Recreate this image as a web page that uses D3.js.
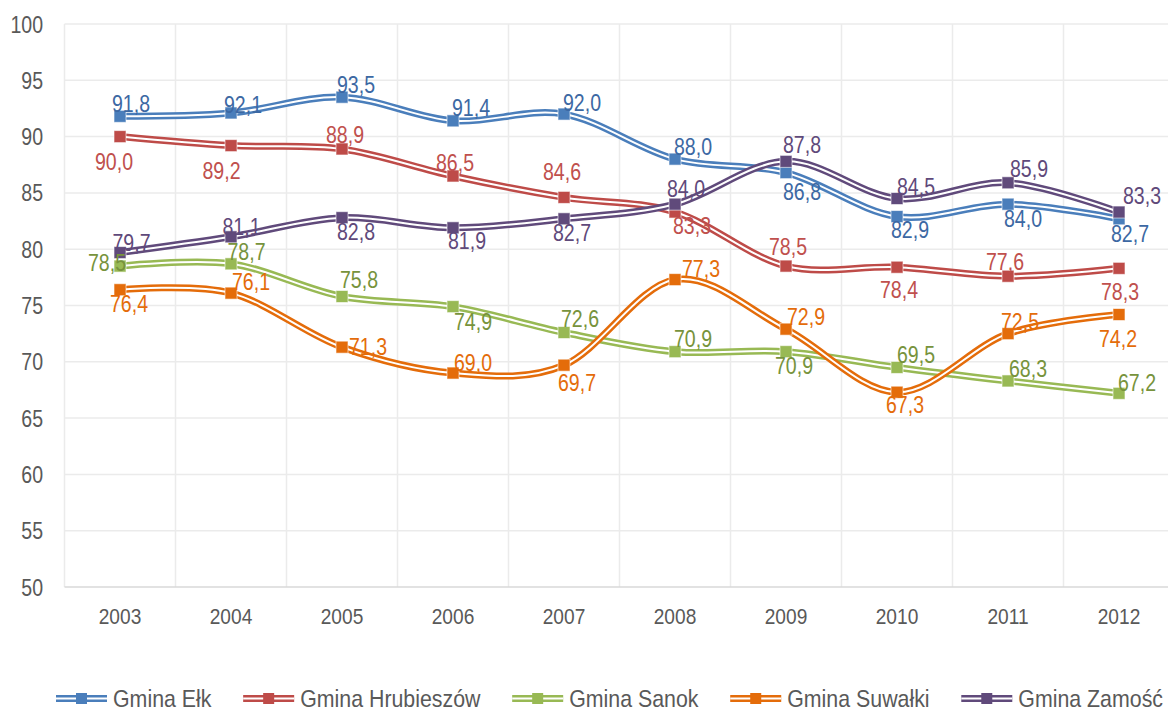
<!DOCTYPE html>
<html><head><meta charset="utf-8">
<script src="https://cdn.jsdelivr.net/npm/d3@7"></script>
<style>body{margin:0;background:#fff}svg{display:block}text{font-family:"Liberation Sans",Arial,sans-serif}</style>
</head><body><svg id="c" width="1168" height="711"></svg>
<script>
const years = ["2003","2004","2005","2006","2007","2008","2009","2010","2011","2012"];
const yTicks = [50,55,60,65,70,75,80,85,90,95,100];
const seriesNames = ["Gmina Ełk","Gmina Hrubieszów","Gmina Sanok","Gmina Suwałki","Gmina Zamość"];
const elk = [91.8,92.1,93.5,91.4,92.0,88.0,86.8,82.9,84.0,82.7];
const hrubieszow = [90.0,89.2,88.9,86.5,84.6,83.3,78.5,78.4,77.6,78.3];
const sanok = [78.5,78.7,75.8,74.9,72.6,70.9,70.9,69.5,68.3,67.2];
const suwalki = [76.4,76.1,71.3,69.0,69.7,77.3,72.9,67.3,72.5,74.2];
const zamosc = [79.7,81.1,82.8,81.9,82.7,84.0,87.8,84.5,85.9,83.3];

// data-label placement (offset of label centre/baseline from its marker), styling only
const elkLbl = [[11,-4],[12,0],[14,-4.5],[18,-5],[18,-3],[18,-4],[16,27],[13,21],[15,23],[11,23]];
const hrubLbl = [[-6,33],[-9.5,33.5],[3,-6],[2,-5],[-2,-17],[17,22],[2,-11],[2,31],[-3,-6],[1,32]];
const sanokLbl = [[-13,5],[15.5,-4],[17,-8],[20,23],[16,-6],[18,-5],[8,22],[19,-4],[20,-4],[18,-2]];
const suwLbl = [[9,22],[20,-3],[26,8],[20,-2],[13,26],[26,-3],[20,-4],[8,21],[12,-4],[-1,32]];
const zamLbl = [[11.5,-2],[10.5,-2],[14,22],[14,21],[8,22],[11,-7],[16,-8],[19,-3.5],[21,-6],[23,-8]];

const lineColors = ["#4A7EBB","#BE4B48","#98B954","#E46C0A","#604A7B"];
const labelColors = ["#3C68A3","#C0504D","#77933C","#E46C0A","#5F497A"];
const data = [elk,hrubieszow,sanok,suwalki,zamosc];
const labelPlace = [elkLbl,hrubLbl,sanokLbl,suwLbl,zamLbl];

const SX = 0.85;
const svg = d3.select("#c");
const top_ = 24, bottom = 587;
const x = d3.scaleBand().domain(years).range([64.5, 1174.5]);
const y = d3.scaleLinear().domain([50,100]).range([bottom, top_]);
const cx = d => x(d) + x.bandwidth()/2;

// gridlines
const g = svg.append("g");
g.selectAll("line.h").data(yTicks.filter(t=>t>50)).join("line")
  .attr("x1",64.5).attr("x2",1168).attr("y1",d=>y(d)).attr("y2",d=>y(d))
  .attr("stroke","#EBEBEB").attr("stroke-width",1.5);
g.selectAll("line.v").data(years).join("line")
  .attr("x1",d=>x(d)).attr("x2",d=>x(d)).attr("y1",top_).attr("y2",bottom)
  .attr("stroke","#EBEBEB").attr("stroke-width",1.5);
g.append("line").attr("x1",64.5).attr("x2",1168).attr("y1",bottom).attr("y2",bottom)
  .attr("stroke","#D9D9D9").attr("stroke-width",1.5);

// y axis labels
const ya = svg.append("g").attr("transform","translate(43,0)")
  .call(d3.axisLeft(y).tickValues(yTicks).tickSize(0).tickPadding(0));
ya.select(".domain").remove();
ya.selectAll("text").attr("font-size",23).attr("fill","#595959")
  .attr("font-family","'Liberation Sans',Arial,sans-serif").attr("dy","0.35em")
  .attr("transform",`scale(${SX},1)`);

// x axis labels
const xa = svg.append("g").attr("transform",`translate(0,${bottom})`)
  .call(d3.axisBottom(x).tickSize(0));
xa.select(".domain").remove();
xa.selectAll("text").attr("font-size",22.5).attr("fill","#595959")
  .attr("font-family","'Liberation Sans',Arial,sans-serif").attr("y",37).attr("dy",0)
  .attr("transform",`scale(${SX},1)`);

const line = d3.line().x((d,i)=>cx(years[i])).y(d=>y(d)).curve(d3.curveCardinal.tension(0));

data.forEach((s,k)=>{
  const gg = svg.append("g");
  gg.append("path").attr("d",line(s)).attr("fill","none").attr("stroke",lineColors[k]).attr("stroke-width",7);
  gg.append("path").attr("d",line(s)).attr("fill","none").attr("stroke","#fff").attr("stroke-width",2);
  gg.selectAll("rect").data(s).join("rect")
    .attr("x",(d,i)=>cx(years[i])-6).attr("y",d=>y(d)-6)
    .attr("width",12).attr("height",12).attr("fill",lineColors[k])
    .attr("stroke","#fff").attr("stroke-opacity",0.6).attr("stroke-width",1);
});
data.forEach((s,k)=>{
  svg.append("g").selectAll("text").data(s).join("text")
    .attr("transform",(d,i)=>`translate(${cx(years[i])+labelPlace[k][i][0]},${y(d)+labelPlace[k][i][1]}) scale(${SX},1)`)
    .attr("text-anchor","middle").attr("font-size",23).attr("fill",labelColors[k])
    .text(d=>d.toFixed(1).replace(".",","));
});

// legend
const LSX = 0.89;
const lg = svg.append("g").attr("transform","translate(0,698.5)");
const items = seriesNames.map((n,k)=>{
  const it = lg.append("g");
  it.append("line").attr("x1",0).attr("x2",51).attr("stroke",lineColors[k]).attr("stroke-width",7);
  it.append("line").attr("x1",0).attr("x2",51).attr("stroke","#fff").attr("stroke-width",2);
  it.append("rect").attr("x",20).attr("y",-5.5).attr("width",11).attr("height",11).attr("fill",lineColors[k]);
  const t = it.append("text").attr("transform",`translate(57,8) scale(${LSX},1)`)
    .attr("font-size",24).attr("fill","#595959").text(n);
  return {it, w: 57 + t.node().getComputedTextLength()*LSX};
});
const total = d3.sum(items, d=>d.w);
const gap = (1163 - 56 - total)/(items.length-1);
let lx = 56;
items.forEach(d=>{ d.it.attr("transform",`translate(${lx},0)`); lx += d.w + gap; });
</script></body></html>
